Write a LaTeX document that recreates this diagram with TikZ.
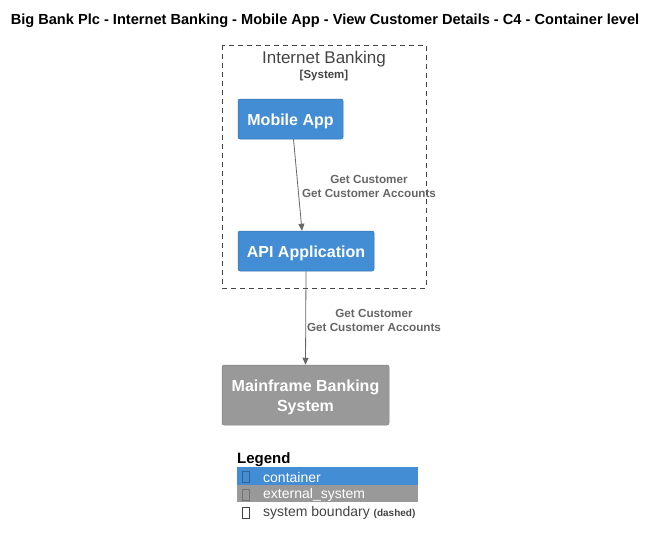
\documentclass[tikz,border=0pt]{standalone}
\usepackage{fontspec}
\setmainfont{Liberation Sans}
\usetikzlibrary{arrows.meta}
\definecolor{cont}{HTML}{438DD5}
\definecolor{ext}{HTML}{999999}
\definecolor{rel}{HTML}{666666}
\definecolor{bnd}{HTML}{444444}
\tikzset{
  box/.style={rounded corners=2pt, inner sep=0pt},
  boxtext/.style={text=white, font=\fontsize{16}{20}\selectfont\bfseries, align=center, inner sep=0pt, yshift=-2pt},
  contbox/.style={box, fill=cont, draw=cont!80!black, line width=0.5pt},
  extbox/.style={box, fill=ext, draw=ext!85!black, line width=0.5pt},
  relarrow/.style={draw=rel, line width=0.8pt, -{Triangle[length=7pt,width=6pt]}},
  rellabel/.style={text=rel, font=\fontsize{11.7}{14.5}\selectfont\bfseries, align=center, inner sep=0pt},
  legtext/.style={font=\fontsize{14}{16}\selectfont, anchor=west, inner sep=0pt},
  tofu/.style={draw, line width=0.5pt, minimum width=7pt, minimum height=11pt, inner sep=0pt}
}
\begin{document}
\begin{tikzpicture}[x=1pt,y=-1pt]
\useasboundingbox (0,0) rectangle (658,546);
\node[font=\fontsize{14.6}{16}\selectfont\bfseries, inner sep=0pt] (title) at (325,21) {Big Bank Plc - Internet Banking - Mobile App - View Customer Details - C4 - Container level};
% boundary
\draw[bnd, dashed, dash pattern=on 5pt off 4pt, line width=0.7pt] (222,45) rectangle (426,288);
\node[text=bnd, font=\fontsize{17}{19}\selectfont, inner sep=0pt] (bname) at (324,59) {Internet Banking};
\node[text=bnd, font=\fontsize{11.5}{13}\selectfont\bfseries, inner sep=0pt] (btype) at (324,75.5) {[System]};
% nodes
\node[contbox, minimum width=105pt, minimum height=40pt, label={[boxtext]center:Mobile App}] (mobile) at (290.5,119) {};
\node[contbox, minimum width=136pt, minimum height=40pt, label={[boxtext]center:API Application}] (api) at (306,251) {};
\node[extbox, minimum width=167pt, minimum height=60pt, label={[boxtext, yshift=-0.5pt]center:Mainframe Banking\\System}] (mf) at (305.5,395) {};
% connectors
\draw[relarrow] ([xshift=3pt]mobile.south) -- ([xshift=-4pt]api.north);
\node[rellabel] (l1) at (369,186.5) {Get Customer\\Get Customer Accounts};
\draw[relarrow] (api.south) -- (mf.north);
\node[rellabel] (l2) at (374,320.5) {Get Customer\\Get Customer Accounts};
% legend
\node[font=\fontsize{15}{17}\selectfont\bfseries, anchor=west, inner sep=0pt] (leg) at (237,460) {Legend};
\fill[cont] (237,467) rectangle (418,485);
\fill[ext] (237,485) rectangle (418,502);
\node[tofu, draw=cont!70!black] (t1) at (246,477) {};
\node[tofu, draw=ext!75!black] (t2) at (246,495) {};
\node[tofu, draw=bnd] (t3) at (246,513) {};
\node[legtext, text=white] (lc) at (263,477) {container};
\node[legtext, text=white] (le) at (263,495) {external\_system};
\node[legtext, text=bnd] (lb) at (263,513) {system boundary {\fontsize{10}{11}\selectfont\bfseries (dashed)}};
\end{tikzpicture}
\end{document}
